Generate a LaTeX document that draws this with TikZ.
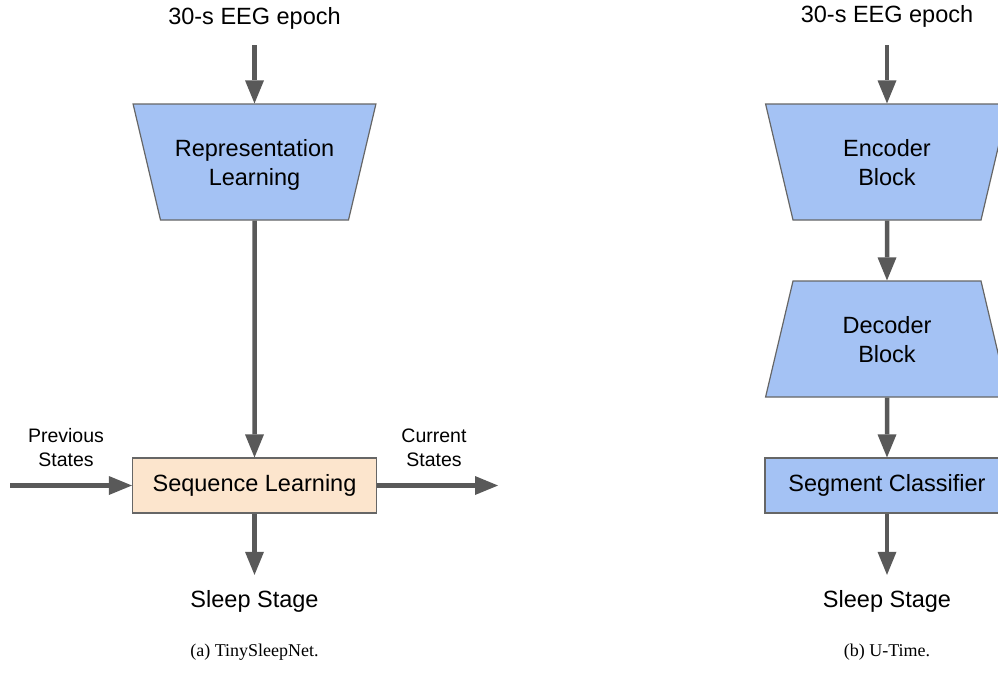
\documentclass[tikz,border=0pt]{standalone}
\usepackage{fontspec}
\setmainfont{Liberation Sans}
\newfontfamily\capfont{Liberation Serif}
\usepackage{xcolor}
\usepackage{tikz}
\usetikzlibrary{arrows.meta}
\usetikzlibrary{shapes.geometric}

\definecolor{blockblue}{HTML}{A4C2F4}
\definecolor{seqorange}{HTML}{FCE5CD}
\definecolor{arrowgray}{HTML}{595959}
\definecolor{bordergray}{HTML}{666666}

\begin{document}
\begin{tikzpicture}[x=1pt, y=1pt,
    lbl/.style={inner sep=0pt, align=center, font=\fontsize{23.5}{29}\selectfont},
    small/.style={inner sep=0pt, align=center, font=\fontsize{19.5}{24}\selectfont},
    subcap/.style={inner sep=0pt, font=\capfont\fontsize{18}{21}\selectfont},
    blk/.style={draw=bordergray, line width=1.2pt, inner sep=0pt, align=center,
      font=\fontsize{23.5}{29}\selectfont},
    trap/.style={blk, trapezium, trapezium angle=76.7, text width=188pt,
      text height=52pt, text depth=64pt, fill=blockblue},
    widetop/.style={trap, shape border rotate=180},
    widebottom/.style={trap},
    bar/.style={blk, rectangle, minimum width=244pt, minimum height=55pt},
    arr/.style={color=arrowgray, line width=4.5pt,
      -{Triangle[length=23pt, width=19pt, line width=0pt]}}
  ]
    \useasboundingbox (0,0) rectangle (998,-678);
    \clip (0,0) rectangle (998,-678);

    % (a) TinySleepNet
    \node[lbl] (epochA) at (254.5,-18) {30-s EEG epoch};
    \node[widetop] (repr) at (254.5,-162) {Representation\\Learning};
    \node[bar, fill=seqorange] (seq) at (254.5,-485.5) {Sequence Learning};
    \node[small] (prev) at (66,-448) {Previous\\States};
    \node[small] (curr) at (434,-448) {Current\\States};
    \coordinate (prevIn) at (10,-485.5);
    \coordinate (currOut) at (498,-485.5);
    \node[lbl] (stageA) at (254.5,-601) {Sleep Stage};
    \node[subcap] (capA) at (254.5,-652) {(a) TinySleepNet.};
    \draw [arr, shorten <=16pt] (epochA) -- (repr);
    \draw [arr] (repr) -- (seq);
    \draw [arr] (prevIn) -- (seq);
    \draw [arr] (seq) -- (currOut);
    \draw [arr, shorten >=15pt] (seq) -- (stageA);

    % (b) U-Time
    \node[lbl] (epochB) at (887,-16) {30-s EEG epoch};
    \node[widetop] (encoder) at (887,-162) {Encoder\\Block};
    \node[widebottom] (decoder) at (887,-339) {Decoder\\Block};
    \node[bar, fill=blockblue] (segment) at (887,-485.5) {Segment Classifier};
    \node[lbl] (stageB) at (887,-601) {Sleep Stage};
    \node[subcap] (capB) at (887,-652) {(b) U-Time.};
    \draw [arr, shorten <=18pt] (epochB) -- (encoder);
    \draw [arr] (encoder) -- (decoder);
    \draw [arr] (decoder) -- (segment);
    \draw [arr, shorten >=15pt] (segment) -- (stageB);
\end{tikzpicture}
\end{document}
